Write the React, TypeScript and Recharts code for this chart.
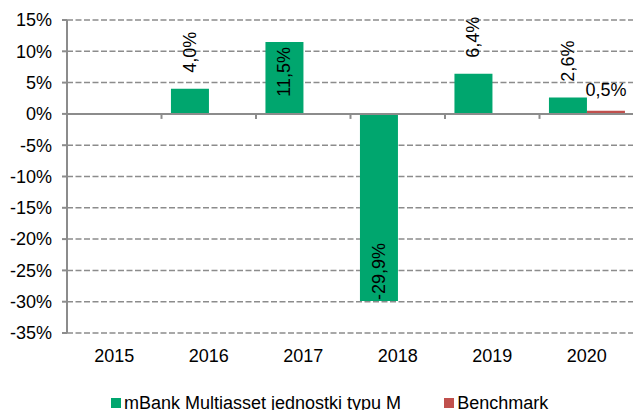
import { BarChart, Bar, XAxis, YAxis, CartesianGrid, ReferenceLine, Legend } from 'recharts';

const years = ['2015', '2016', '2017', '2018', '2019', '2020'];
const fundReturns: (number | null)[] = [null, 4.0, 11.5, -29.9, 6.4, 2.6];
const benchmarkReturns: (number | null)[] = [null, null, null, null, null, 0.5];
const yTicks = [15, 10, 5, 0, -5, -10, -15, -20, -25, -30, -35];

const FUND_NAME = 'mBank Multiasset jednostki typu M';
const BENCH_NAME = 'Benchmark';
const FUND_COLOR = '#00a66e';
const BENCH_COLOR = '#c0504d';

const data = years.map((year, i) => ({
  year,
  fund: fundReturns[i],
  bench: benchmarkReturns[i],
}));

const legendItems = [
  { name: FUND_NAME, color: FUND_COLOR },
  { name: BENCH_NAME, color: BENCH_COLOR },
];

const GREY = '#8c8c8c';
const FONT = '"Liberation Sans", Arial, sans-serif';

const fmt = (v: number) => v.toFixed(1).replace('.', ',') + '%';

// pionowe etykiety jak w Excelu: nad słupkiem, albo w środku gdy za wysoki
const FundLabel = (props: any) => {
  const { x, y, width, height, value } = props;
  if (value === null || value === undefined) return null;
  const top = Math.min(y, y + height);
  const bottom = Math.max(y, y + height);
  const cx = x + width / 2;
  let ay: number;
  let anchor: 'start' | 'end';
  if (value < 0) {
    ay = bottom - 1;
    anchor = 'start';
  } else if (value > 10) {
    ay = top + 5;
    anchor = 'end';
  } else {
    ay = top - 16;
    anchor = 'start';
  }
  return (
    <text
      x={cx}
      y={ay}
      transform={`rotate(-90, ${cx}, ${ay})`}
      textAnchor={anchor}
      dominantBaseline="central"
      fontSize={18}
      fontFamily={FONT}
      fill="#000"
    >
      {fmt(value)}
    </text>
  );
};

const BenchLabel = (props: any) => {
  const { x, y, width, height, value } = props;
  if (value === null || value === undefined) return null;
  const top = Math.min(y, y + height);
  return (
    <text x={x + width / 2} y={top - 15} textAnchor="middle" fontSize={18} fontFamily={FONT} fill="#000">
      {fmt(value)}
    </text>
  );
};

// linia zera z kreskami podziału kategorii
const ZeroAxis = (props: any) => {
  const { x1, x2, y1 } = props;
  const band = (x2 - x1) / years.length;
  return (
    <g>
      <line x1={x1} x2={x2} y1={y1} y2={y1} stroke={GREY} strokeWidth={2} />
      {years.slice(1).map((_, i) => (
        <line
          key={i}
          x1={x1 + band * (i + 1)}
          x2={x1 + band * (i + 1)}
          y1={y1}
          y2={y1 + 5}
          stroke={GREY}
          strokeWidth={2}
        />
      ))}
    </g>
  );
};

const LegendContent = () => (
  <div style={{ display: 'flex', paddingLeft: 111, fontFamily: FONT, fontSize: 18, lineHeight: '20px' }}>
    {legendItems.map((it, i) => (
      <div key={i} style={{ display: 'flex', alignItems: 'center', marginRight: 43 }}>
        <span style={{ width: 10, height: 10, background: it.color, marginRight: 3, display: 'inline-block' }} />
        <span style={{ color: '#000' }}>{it.name}</span>
      </div>
    ))}
  </div>
);

export default function App() {
  return (
    <div style={{ position: 'absolute', left: 0, top: 0, width: 633, height: 410, overflow: 'hidden', background: '#fff' }}>
      <BarChart
        width={634}
        height={410}
        data={data}
        margin={{ top: 20, right: 0, left: 0, bottom: 47 }}
        barCategoryGap="10%"
        barGap={0}
      >
        <CartesianGrid vertical={false} stroke={GREY} strokeWidth={1.5} strokeDasharray="6 2.5" />
        <XAxis
          dataKey="year"
          height={30}
          axisLine={false}
          tickLine={false}
          tickSize={0}
          tickMargin={16}
          tick={{ fontSize: 18, fontFamily: FONT, fill: '#000' }}
        />
        <YAxis
          domain={[-35, 15]}
          ticks={yTicks}
          interval={0}
          width={67}
          tickFormatter={(v: number) => `${v}%`}
          axisLine={{ stroke: GREY, strokeWidth: 2 }}
          tickLine={{ stroke: GREY, strokeWidth: 2 }}
          tickSize={5}
          tickMargin={10}
          tick={{ fontSize: 18, fontFamily: FONT, fill: '#000' }}
        />
        <Legend
          verticalAlign="middle"
          align="center"
          layout="horizontal"
          wrapperStyle={{ top: 393, left: 0, width: 633 }}
          content={LegendContent}
        />
        <Bar dataKey="fund" name={FUND_NAME} fill={FUND_COLOR} isAnimationActive={false} label={FundLabel} />
        <Bar dataKey="bench" name={BENCH_NAME} fill={BENCH_COLOR} isAnimationActive={false} label={BenchLabel} />
        <ReferenceLine y={0} shape={ZeroAxis} />
      </BarChart>
    </div>
  );
}
